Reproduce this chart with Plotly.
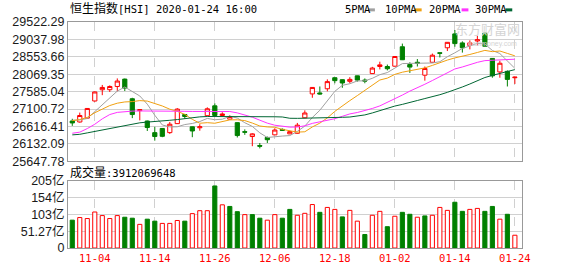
import plotly.graph_objects as go

# ---------------- data ----------------
dates = ["10-30","10-31","11-01","11-04","11-05","11-06","11-07","11-08","11-11","11-12",
         "11-13","11-14","11-15","11-18","11-19","11-20","11-21","11-22","11-25","11-26",
         "11-27","11-28","11-29","12-02","12-03","12-04","12-05","12-06","12-09","12-10",
         "12-11","12-12","12-13","12-16","12-17","12-18","12-19","12-20","12-23","12-24",
         "12-27","12-30","12-31","01-02","01-03","01-06","01-07","01-08","01-09","01-10",
         "01-13","01-14","01-15","01-16","01-17","01-20","01-21","01-22","01-23","01-24"]

open_ = [26770,26743,26850,27327,27639,27640,27730,27935,27389,27058,
         26770,26447,26563,26447,26697,26950,26609,26582,26918,27192,
         26923,26823,26725,26474,26339,26089,26312,26385,26537,26412,
         26429,26859,27523,27550,27666,27973,27919,27873,28026,27908,
         28088,28285,28285,28294,28834,28339,28403,28044,28403,28667,
         28806,29192,28941,28869,28995,29210,28510,28134,28150,27973]
high = [26832,27004,27130,27590,27773,27760,27954,27950,27416,27090,
        26780,26609,26570,26743,27128,26966,26615,26681,27150,27262,
        27012,26930,26730,26537,26429,26159,26339,26568,26563,26501,
        26716,27066,27710,27730,27927,27980,27925,27989,28030,27954,
        28276,28419,28339,28570,28922,28403,28492,28285,28645,28672,
        28965,29299,28984,29011,29138,29226,28515,28446,28177,27995]
low = [26635,26725,26832,27310,27488,27577,27596,27604,26850,26788,
       26493,26224,26320,26412,26690,26832,26320,26501,26910,26900,
       26915,26815,26312,26385,26070,26009,26159,26380,26493,26405,
       26420,26850,27416,27505,27596,27819,27693,27819,27865,27819,
       28080,28204,28177,28290,28465,28107,28285,27892,28400,28537,
       28715,28834,28672,28761,28869,28845,27973,27973,27730,27800]
close = [26716,26923,27119,27577,27703,27730,27881,27685,26950,27085,
         26589,26339,26345,26681,27101,26896,26493,26609,27110,26923,
         26966,26896,26366,26460,26412,26070,26250,26519,26510,26474,
         26654,26993,27703,27523,27865,27892,27827,27927,27908,27881,
         28242,28330,28223,28563,28473,28269,28376,28230,28599,28653,
         28957,28922,28806,28941,29030,28850,28026,28376,27927,27989]

ma5 = [26790,26800,26840,27030,27208,27410,27602,27715,27590,27466,
       27238,26930,26660,26607,26610,26671,26702,26756,26842,26806,
       26820,26901,26852,26722,26620,26441,26312,26342,26352,26365,
       26481,26630,26867,27069,27348,27595,27762,27807,27884,27887,
       27957,28058,28117,28248,28366,28372,28381,28376,28383,28419,
       28557,28666,28787,28856,28931,28910,28731,28645,28442,28234]
ma10 = [26780,26810,26870,27000,27100,27200,27265,27300,27310,27337,
        27324,27266,27188,27098,27038,26955,26816,26708,26724,26708,
        26746,26801,26804,26782,26713,26631,26606,26597,26537,26492,
        26461,26471,26605,26711,26856,27038,27196,27337,27477,27617,
        27776,27910,27962,28066,28127,28164,28219,28247,28316,28393,
        28464,28524,28582,28620,28675,28733,28698,28716,28649,28582]
ma20 = [26430,26460,26560,26680,26830,26950,27010,27035,27045,27050,
        27045,27042,27040,27040,27042,27040,27036,27035,27038,27022,
        27035,27034,26996,26940,26876,26793,26711,26653,26631,26600,
        26603,26636,26704,26746,26785,26834,26901,26967,27007,27055,
        27119,27190,27283,27388,27491,27601,27708,27792,27896,28005,
        28120,28217,28272,28343,28401,28449,28459,28481,28482,28488]
ma30 = [26385,26400,26440,26480,26530,26575,26615,26650,26695,26720,
        26740,26750,26760,26790,26810,26840,26870,26885,26895,26896,
        26896,26896,26896,26896,26896,26896,26893,26888,26882,26846,
        26844,26846,26865,26864,26869,26874,26873,26881,26913,26939,
        26994,27061,27123,27186,27232,27278,27340,27394,27443,27501,
        27567,27635,27716,27799,27886,27979,28038,28100,28147,28198]

volume_yi = [85.3,93.3,90.3,110.3,99.3,90.3,99.3,94.3,91.3,72.4,
             88.3,82.3,75.4,75.4,84.3,82.3,105.3,114.3,114.3,190.1,
             132.3,127.3,111.3,102.3,102.3,91.3,85.3,102.3,91.3,118.3,
             100.3,106.3,133.2,109.3,124.3,118.3,95.3,115.3,82.3,41.3,
             100.3,112.3,65.3,97.3,109.3,103.3,94.3,98.3,100.3,124.3,
             115.3,140.2,112.3,118.3,121.3,112.3,127.3,88.3,103.3,39.12]
vol_up = [0,1,1,1,1,1,1,0,0,1,
          0,0,1,1,1,0,1,1,1,0,
          1,0,0,1,0,0,1,1,0,0,
          1,1,1,0,1,1,0,1,1,0,
          1,1,0,1,0,0,1,0,1,1,
          1,0,0,1,1,0,0,1,0,1]

price_ticks = [25647.78,26132.09,26616.41,27100.72,27585.04,28069.35,28553.66,29037.98,29522.29]
price_tick_text = ["25647.78","26132.09","26616.41","27100.72","27585.04","28069.35","28553.66","29037.98","29522.29"]
vol_ticks = [0,51.27,102.54,153.81,205.08]
vol_tick_text = ["0","51.27亿","103亿","154亿","205亿"]
date_tick_text = ["11-04","11-14","11-26","12-06","12-18","01-02","01-14","01-24"]

title_text = "<span style='font-size:12px'>恒生指数</span>[HSI] 2020-01-24 16:00"
vol_title = "<span style='font-size:12px'>成交量</span>:3912069648"
legend_names = ["5PMA", "10PMA", "20PMA", "30PMA"]

# ---------------- styling ----------------
RED = "#ff0000"
GREEN = "#008000"
MA_COLORS = ["#a0a0a0", "#f0a010", "#ff33ff", "#006633"]
GRID = "#d0d0d0"
BORDER = "#999999"
MONO = "DejaVu Sans Mono, Noto Sans CJK SC"
CJK = "Noto Sans CJK SC"

W, H = 578, 276
L, R, T, B = 56, 56, 22, 21
PW, PH = W - L - R, H - T - B

def px(x):
    return (x - L) / PW

def py(y):
    return (H - B - y) / PH

idx = list(range(len(dates)))
tick_idx = [i for i, d in enumerate(dates) if d in date_tick_text]

fig = go.Figure()

fig.add_trace(go.Candlestick(
    x=idx, open=open_, high=high, low=low, close=close,
    increasing=dict(line=dict(color=RED, width=1), fillcolor="#ffffff"),
    decreasing=dict(line=dict(color=GREEN, width=1), fillcolor=GREEN),
    whiskerwidth=0, xaxis="x", yaxis="y", showlegend=False, hoverinfo="skip"))

for ser, col in zip([ma5, ma10, ma20, ma30], MA_COLORS):
    fig.add_trace(go.Scatter(x=idx, y=ser, mode="lines", line=dict(color=col, width=1),
                             xaxis="x", yaxis="y", showlegend=False, hoverinfo="skip"))

fig.add_trace(go.Bar(
    x=idx, y=volume_yi, width=0.55,
    marker=dict(color=["#ffffff" if u else GREEN for u in vol_up],
                line=dict(color=[RED if u else GREEN for u in vol_up], width=1)),
    xaxis="x2", yaxis="y2", showlegend=False, hoverinfo="skip"))

xr = [-0.57, 59.95]
axis_common = dict(showline=True, mirror=True, linecolor=BORDER, linewidth=1,
                   zeroline=False, ticks="", fixedrange=True)

fig.update_layout(
    width=W, height=H,
    margin=dict(l=L, r=R, t=T, b=B, pad=0),
    paper_bgcolor="#ffffff", plot_bgcolor="#ffffff",
    showlegend=False,
    boxgap=0.2, boxgroupgap=0.3,
    bargap=0,
    xaxis=dict(domain=[0, 1], anchor="y", range=xr, tickvals=tick_idx, showticklabels=False,
               showgrid=True, gridcolor=GRID, griddash="dash", gridwidth=1,
               rangeslider=dict(visible=False), **axis_common),
    yaxis=dict(domain=[py(165.7), 1], anchor="x", range=[price_ticks[0], price_ticks[-1]],
               tickvals=price_ticks, ticktext=price_tick_text,
               showgrid=True, gridcolor=GRID, gridwidth=1,
               tickfont=dict(family="Liberation Sans, Arial", size=12.5, color="#1a1a1a"),
               **axis_common),
    xaxis2=dict(domain=[0, 1], anchor="y2", range=xr, tickvals=tick_idx, ticktext=date_tick_text,
                showgrid=True, gridcolor=GRID, griddash="dash", gridwidth=1,
                tickfont=dict(family=MONO, size=10.5, color=RED), **axis_common),
    yaxis2=dict(domain=[0, py(186)], anchor="x2", range=[vol_ticks[0], vol_ticks[-1]],
                tickvals=vol_ticks, ticktext=vol_tick_text,
                showgrid=True, gridcolor=GRID, gridwidth=1,
                tickfont=dict(family="Liberation Sans, Noto Sans CJK SC", size=12.5, color="#1a1a1a"),
                **axis_common),
)

ann = []
ann.append(dict(text=title_text, x=px(56), y=py(8), xref="paper", yref="paper",
                xanchor="left", yanchor="middle", showarrow=False,
                font=dict(family=MONO, size=10.5, color="#000000")))
ann.append(dict(text=vol_title, x=px(56), y=py(177), xref="paper", yref="paper",
                xanchor="left", yanchor="middle", showarrow=False,
                font=dict(family=MONO, size=10.5, color="#000000")))
# watermark
ann.append(dict(text="东方财富网", x=px(522), y=py(29), xref="paper", yref="paper",
                xanchor="right", yanchor="middle", showarrow=False,
                font=dict(family=CJK, size=13, color="#d4d4d4")))
ann.append(dict(text="eastmoney.com", x=px(519), y=py(45), xref="paper", yref="paper",
                xanchor="right", yanchor="middle", showarrow=False,
                font=dict(family="Liberation Sans", size=7, color="#d4d4d4")))

legend_x = [338, 379, 425, 472]
dash_x = [364, 412, 460, 505]
shapes = []
for name, lx, dx, col in zip(legend_names, legend_x, dash_x, MA_COLORS):
    ann.append(dict(text=name, x=px(lx), y=py(9), xref="paper", yref="paper",
                    xanchor="left", yanchor="middle", showarrow=False,
                    font=dict(family=MONO, size=10.5, color="#000000")))
    shapes.append(dict(type="line", xref="paper", yref="paper",
                       x0=px(dx), x1=px(dx + 7), y0=py(9.5), y1=py(9.5),
                       line=dict(color=col, width=3)))

fig.update_layout(annotations=ann, shapes=shapes)

fig.write_html("out.html", config={"displayModeBar": False, "staticPlot": True})
